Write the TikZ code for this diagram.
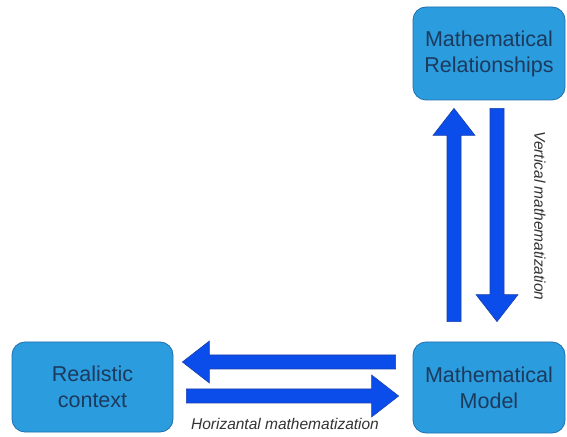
\documentclass[tikz,border=0pt]{standalone}
\usepackage{fontspec}
\setmainfont{Liberation Sans}
\usetikzlibrary{calc}

\definecolor{boxfill}{HTML}{2B9CDD}
\definecolor{boxedge}{HTML}{1F6FAF}
\definecolor{boxtext}{HTML}{1C3A5E}
\definecolor{arrowfill}{HTML}{0B4DEB}
\definecolor{arrowedge}{HTML}{1A3FA8}
\definecolor{labeltext}{HTML}{333333}

\begin{document}
\begin{tikzpicture}[x=1pt,y=1pt,
  stage/.style={draw=boxedge, line width=0.8pt, fill=boxfill,
    rounded corners=13pt, text=boxtext, align=center,
    font=\fontsize{21.5}{26}\selectfont, inner sep=0pt},
  % a wide block arrow drawn as one outline from start to target
  blockarrow/.style={fill=arrowfill, draw=arrowedge, line width=0.6pt,
    line join=miter,
    to path={
      ($(\tikztostart)!7pt!90:(\tikztotarget)$) --
      ($(\tikztotarget)!27pt!(\tikztostart)!7pt!-90:(\tikztostart)$) --
      ($(\tikztotarget)!27pt!(\tikztostart)!21pt!-90:(\tikztostart)$) --
      (\tikztotarget) --
      ($(\tikztotarget)!27pt!(\tikztostart)!21pt!90:(\tikztostart)$) --
      ($(\tikztotarget)!27pt!(\tikztostart)!7pt!90:(\tikztostart)$) --
      ($(\tikztostart)!7pt!-90:(\tikztotarget)$) -- cycle}},
  axislabel/.style={text=labeltext, inner sep=0pt,
    font=\fontsize{15.5}{18}\selectfont\itshape}
]
\useasboundingbox (0,0) rectangle (567,436);

% the three stages
\node[stage, minimum width=152pt, minimum height=93pt] (rel) at (489,382.5)
  {Mathematical\\Relationships};
\node[stage, minimum width=152pt, minimum height=91pt] (model) at (489,48.5)
  {Mathematical\\Model};
\node[stage, minimum width=161pt, minimum height=90pt] (ctx) at (92.5,49)
  {Realistic\\context};

% arrow end points
\coordinate (hl-s) at ($(model.west)+(-17,25.5)$);
\coordinate (hl-t) at ($(ctx.east)+(9,25)$);
\coordinate (hr-s) at ($(ctx.east)+(13,-9)$);
\coordinate (hr-t) at ($(model.west)+(-14,-8.5)$);
\coordinate (vu-s) at ($(model.north)+(-35,20)$);
\coordinate (vu-t) at ($(rel.south)+(-35,-8)$);
\coordinate (vd-s) at ($(rel.south)+(8,-8)$);
\coordinate (vd-t) at ($(model.north)+(8,20)$);

% horizontal mathematization
\draw[blockarrow] (hl-s) to (hl-t);
\draw[blockarrow] (hr-s) to (hr-t);
% vertical mathematization
\draw[blockarrow] (vu-s) to (vu-t);
\draw[blockarrow] (vd-s) to (vd-t);

\node[axislabel, anchor=base] (hlabel) at (285,6) {Horizantal mathematization};
\node[axislabel, rotate=-90] (vlabel) at (540,220) {Vertical mathematization};
\end{tikzpicture}
\end{document}
